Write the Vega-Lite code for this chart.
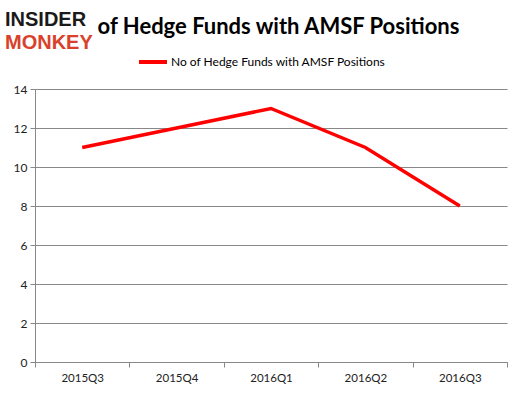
{
  "$schema": "https://vega.github.io/schema/vega-lite/v6.json",
  "autosize": "none",
  "width": 472,
  "height": 273,
  "padding": {"left": 35, "top": 89, "right": 16, "bottom": 33},
  "background": "white",
  "title": {
    "text": "INSIDER",
    "subtitle": "MONKEY",
    "anchor": "start",
    "frame": "group",
    "dx": -30,
    "offset": -38,
    "font": "Liberation Sans",
    "fontSize": 20,
    "fontWeight": "bold",
    "color": "#1a1a1a",
    "subtitleFont": "Liberation Sans",
    "subtitleFontSize": 20,
    "subtitleFontWeight": "bold",
    "subtitleColor": "#d9412b",
    "subtitlePadding": 3
  },
  "data": {
    "values": [
      {"quarter": "2015Q3", "funds": 11, "series": "No of Hedge Funds with AMSF Positions"},
      {"quarter": "2015Q4", "funds": 12, "series": "No of Hedge Funds with AMSF Positions"},
      {"quarter": "2016Q1", "funds": 13, "series": "No of Hedge Funds with AMSF Positions"},
      {"quarter": "2016Q2", "funds": 11, "series": "No of Hedge Funds with AMSF Positions"},
      {"quarter": "2016Q3", "funds": 8, "series": "No of Hedge Funds with AMSF Positions"}
    ]
  },
  "mark": {"type": "line", "strokeWidth": 3.5},
  "encoding": {
    "x": {
      "field": "quarter",
      "type": "ordinal",
      "sort": null,
      "bandPosition": 0.5,
      "scale": {"type": "band", "paddingInner": 0, "paddingOuter": 0},
      "axis": {
        "title": "of Hedge Funds with AMSF Positions",
        "titleX": 243,
        "titleY": -329,
        "titleAlign": "center",
        "titleAnchor": null,
        "titleBaseline": "alphabetic",
        "titleFont": "Lato",
        "titleFontSize": 22,
        "titleFontWeight": "bold",
        "titleColor": "#000000",
        "labelAngle": 0,
        "labelFont": "Lato",
        "labelFontSize": 11.5,
        "labelColor": "#222222",
        "labelPadding": 5,
        "tickBand": "extent",
        "tickSize": 5,
        "tickColor": "#888888",
        "domainColor": "#888888",
        "grid": false
      }
    },
    "y": {
      "field": "funds",
      "type": "quantitative",
      "scale": {"domain": [0, 14], "nice": false},
      "axis": {
        "title": null,
        "values": [0, 2, 4, 6, 8, 10, 12, 14],
        "labelFont": "Lato",
        "labelFontSize": 12,
        "labelColor": "#222222",
        "labelPadding": 3,
        "tickSize": 5,
        "tickColor": "#888888",
        "domainColor": "#888888",
        "gridColor": "#888888",
        "grid": true
      }
    },
    "color": {
      "field": "series",
      "type": "nominal",
      "scale": {"range": ["#FF0000"]},
      "legend": {
        "title": null,
        "orient": "none",
        "legendX": 102,
        "legendY": -43,
        "symbolType": "stroke",
        "symbolSize": 784,
        "symbolStrokeWidth": 4,
        "labelFont": "Lato",
        "labelFontSize": 12,
        "labelColor": "#000000",
        "labelOffset": 2,
        "labelLimit": 400
      }
    }
  },
  "config": {"view": {"stroke": null}}
}
